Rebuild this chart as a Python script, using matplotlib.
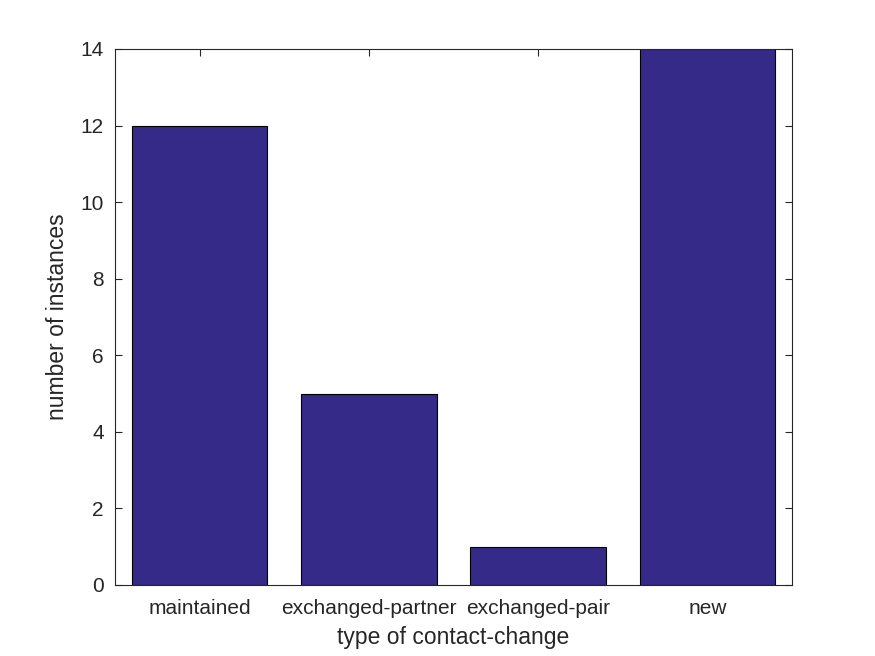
import matplotlib
matplotlib.use("Agg")
import matplotlib.pyplot as plt

categories = ["maintained", "exchanged-partner", "exchanged-pair", "new"]
counts = [12, 5, 1, 14]
yticks = [0, 2, 4, 6, 8, 10, 12, 14]

plt.rcParams['font.family'] = ['Liberation Sans', 'DejaVu Sans']

fig = plt.figure(figsize=(8.75, 6.56), dpi=100)
ax = fig.add_axes([115/875, 71/656, 677/875, 536/656])
x = list(range(1, len(categories) + 1))
ax.bar(x, counts, width=0.8, color='#352A87', edgecolor='black', linewidth=0.8, zorder=2)
ax.set_xlim(0.5, 4.5)
ax.set_ylim(0, 14)
ax.set_xticks(x)
ax.set_xticklabels(categories)
ax.set_yticks(yticks)
ax.tick_params(direction='in', length=5, width=0.8, labelsize=15, colors='#262626', top=True, right=True,
               labeltop=False, labelright=False, pad=8)
ax.tick_params(axis='x', pad=10)
for s in ax.spines.values():
    s.set_color('#262626')
    s.set_linewidth(0.8)
ax.set_xlabel('type of contact-change', fontsize=16.5, color='#262626', labelpad=6)
ax.set_ylabel('number of instances', fontsize=16.5, color='#262626', labelpad=8)
fig.savefig('out.png', dpi=100)
